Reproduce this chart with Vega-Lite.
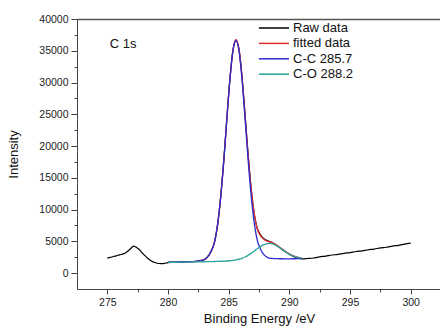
{
  "$schema": "https://vega.github.io/schema/vega-lite/v6.json",
  "autosize": "none",
  "padding": {"left": 77, "top": 19, "right": 0, "bottom": 40},
  "width": 364,
  "height": 270,
  "config": {
    "font": "Liberation Sans",
    "view": {"stroke": null},
    "axis": {"grid": false, "domainColor": "#444", "tickColor": "#444", "labelColor": "#222", "titleColor": "#111", "labelFont": "Liberation Sans", "titleFont": "Liberation Sans", "labelFontSize": 10.5, "titleFontSize": 13, "titleFontWeight": "normal"}
  },
  "datasets": {
    "curves": [
      {"series": "Raw data", "energy": 275, "intensity": 2360},
      {"series": "Raw data", "energy": 275.25, "intensity": 2480},
      {"series": "Raw data", "energy": 275.5, "intensity": 2620},
      {"series": "Raw data", "energy": 275.75, "intensity": 2720},
      {"series": "Raw data", "energy": 276, "intensity": 2880},
      {"series": "Raw data", "energy": 276.25, "intensity": 3000},
      {"series": "Raw data", "energy": 276.5, "intensity": 3180},
      {"series": "Raw data", "energy": 276.75, "intensity": 3550},
      {"series": "Raw data", "energy": 277, "intensity": 4000},
      {"series": "Raw data", "energy": 277.15, "intensity": 4250},
      {"series": "Raw data", "energy": 277.35, "intensity": 4100},
      {"series": "Raw data", "energy": 277.6, "intensity": 3750},
      {"series": "Raw data", "energy": 277.85, "intensity": 3250},
      {"series": "Raw data", "energy": 278.1, "intensity": 2750},
      {"series": "Raw data", "energy": 278.35, "intensity": 2300},
      {"series": "Raw data", "energy": 278.6, "intensity": 1950},
      {"series": "Raw data", "energy": 278.85, "intensity": 1700},
      {"series": "Raw data", "energy": 279.1, "intensity": 1550},
      {"series": "Raw data", "energy": 279.4, "intensity": 1480},
      {"series": "Raw data", "energy": 279.7, "intensity": 1520},
      {"series": "Raw data", "energy": 280, "intensity": 1660},
      {"series": "Raw data", "energy": 280.5, "intensity": 1740},
      {"series": "Raw data", "energy": 281, "intensity": 1730},
      {"series": "Raw data", "energy": 281.5, "intensity": 1790},
      {"series": "Raw data", "energy": 282, "intensity": 1800},
      {"series": "Raw data", "energy": 282.5, "intensity": 1920},
      {"series": "Raw data", "energy": 283, "intensity": 2120},
      {"series": "Raw data", "energy": 283.35, "intensity": 2780},
      {"series": "Raw data", "energy": 283.6, "intensity": 3600},
      {"series": "Raw data", "energy": 283.85, "intensity": 5050},
      {"series": "Raw data", "energy": 284.1, "intensity": 7800},
      {"series": "Raw data", "energy": 284.35, "intensity": 12150},
      {"series": "Raw data", "energy": 284.6, "intensity": 17700},
      {"series": "Raw data", "energy": 284.85, "intensity": 24300},
      {"series": "Raw data", "energy": 285.1, "intensity": 30400},
      {"series": "Raw data", "energy": 285.35, "intensity": 35000},
      {"series": "Raw data", "energy": 285.6, "intensity": 36600},
      {"series": "Raw data", "energy": 285.85, "intensity": 35300},
      {"series": "Raw data", "energy": 286.1, "intensity": 30900},
      {"series": "Raw data", "energy": 286.35, "intensity": 24950},
      {"series": "Raw data", "energy": 286.6, "intensity": 18800},
      {"series": "Raw data", "energy": 286.85, "intensity": 13400},
      {"series": "Raw data", "energy": 287.1, "intensity": 9500},
      {"series": "Raw data", "energy": 287.35, "intensity": 7100},
      {"series": "Raw data", "energy": 287.6, "intensity": 6100},
      {"series": "Raw data", "energy": 287.85, "intensity": 5500},
      {"series": "Raw data", "energy": 288.1, "intensity": 5200},
      {"series": "Raw data", "energy": 288.35, "intensity": 5000},
      {"series": "Raw data", "energy": 288.6, "intensity": 4800},
      {"series": "Raw data", "energy": 288.85, "intensity": 4500},
      {"series": "Raw data", "energy": 289.1, "intensity": 4150},
      {"series": "Raw data", "energy": 289.35, "intensity": 3800},
      {"series": "Raw data", "energy": 289.6, "intensity": 3450},
      {"series": "Raw data", "energy": 289.85, "intensity": 3150},
      {"series": "Raw data", "energy": 290.1, "intensity": 2850},
      {"series": "Raw data", "energy": 290.5, "intensity": 2500},
      {"series": "Raw data", "energy": 291, "intensity": 2250},
      {"series": "Raw data", "energy": 291.5, "intensity": 2300},
      {"series": "Raw data", "energy": 292, "intensity": 2380},
      {"series": "Raw data", "energy": 292.5, "intensity": 2560},
      {"series": "Raw data", "energy": 293, "intensity": 2680},
      {"series": "Raw data", "energy": 293.5, "intensity": 2850},
      {"series": "Raw data", "energy": 294, "intensity": 2940},
      {"series": "Raw data", "energy": 294.5, "intensity": 3120},
      {"series": "Raw data", "energy": 295, "intensity": 3230},
      {"series": "Raw data", "energy": 295.5, "intensity": 3400},
      {"series": "Raw data", "energy": 296, "intensity": 3500},
      {"series": "Raw data", "energy": 296.5, "intensity": 3680},
      {"series": "Raw data", "energy": 297, "intensity": 3790},
      {"series": "Raw data", "energy": 297.5, "intensity": 3960},
      {"series": "Raw data", "energy": 298, "intensity": 4070},
      {"series": "Raw data", "energy": 298.5, "intensity": 4260},
      {"series": "Raw data", "energy": 299, "intensity": 4380},
      {"series": "Raw data", "energy": 299.5, "intensity": 4570},
      {"series": "Raw data", "energy": 300, "intensity": 4720},

      {"series": "fitted data", "energy": 280, "intensity": 1720},
      {"series": "fitted data", "energy": 280.5, "intensity": 1735},
      {"series": "fitted data", "energy": 281, "intensity": 1750},
      {"series": "fitted data", "energy": 281.5, "intensity": 1775},
      {"series": "fitted data", "energy": 282, "intensity": 1810},
      {"series": "fitted data", "energy": 282.5, "intensity": 1900},
      {"series": "fitted data", "energy": 283, "intensity": 2140},
      {"series": "fitted data", "energy": 283.35, "intensity": 2755},
      {"series": "fitted data", "energy": 283.6, "intensity": 3620},
      {"series": "fitted data", "energy": 283.85, "intensity": 5000},
      {"series": "fitted data", "energy": 284.1, "intensity": 7827},
      {"series": "fitted data", "energy": 284.35, "intensity": 12105},
      {"series": "fitted data", "energy": 284.6, "intensity": 17774},
      {"series": "fitted data", "energy": 284.85, "intensity": 24270},
      {"series": "fitted data", "energy": 285.1, "intensity": 30497},
      {"series": "fitted data", "energy": 285.35, "intensity": 35040},
      {"series": "fitted data", "energy": 285.6, "intensity": 36776},
      {"series": "fitted data", "energy": 285.85, "intensity": 35223},
      {"series": "fitted data", "energy": 286.1, "intensity": 30885},
      {"series": "fitted data", "energy": 286.35, "intensity": 24895},
      {"series": "fitted data", "energy": 286.6, "intensity": 18683},
      {"series": "fitted data", "energy": 286.85, "intensity": 13345},
      {"series": "fitted data", "energy": 287.1, "intensity": 9437},
      {"series": "fitted data", "energy": 287.35, "intensity": 6991},
      {"series": "fitted data", "energy": 287.6, "intensity": 5963},
      {"series": "fitted data", "energy": 287.85, "intensity": 5391},
      {"series": "fitted data", "energy": 288.1, "intensity": 5098},
      {"series": "fitted data", "energy": 288.35, "intensity": 4923},
      {"series": "fitted data", "energy": 288.6, "intensity": 4776},
      {"series": "fitted data", "energy": 288.85, "intensity": 4535},
      {"series": "fitted data", "energy": 289.1, "intensity": 4228},
      {"series": "fitted data", "energy": 289.35, "intensity": 3877},
      {"series": "fitted data", "energy": 289.6, "intensity": 3523},
      {"series": "fitted data", "energy": 289.85, "intensity": 3200},
      {"series": "fitted data", "energy": 290.1, "intensity": 2924},
      {"series": "fitted data", "energy": 290.5, "intensity": 2610},
      {"series": "fitted data", "energy": 291, "intensity": 2396},

      {"series": "C-C 285.7", "energy": 280, "intensity": 1720},
      {"series": "C-C 285.7", "energy": 280.5, "intensity": 1735},
      {"series": "C-C 285.7", "energy": 281, "intensity": 1750},
      {"series": "C-C 285.7", "energy": 281.5, "intensity": 1775},
      {"series": "C-C 285.7", "energy": 282, "intensity": 1810},
      {"series": "C-C 285.7", "energy": 282.5, "intensity": 1900},
      {"series": "C-C 285.7", "energy": 283, "intensity": 2140},
      {"series": "C-C 285.7", "energy": 283.35, "intensity": 2755},
      {"series": "C-C 285.7", "energy": 283.6, "intensity": 3620},
      {"series": "C-C 285.7", "energy": 283.85, "intensity": 5000},
      {"series": "C-C 285.7", "energy": 284.1, "intensity": 7825},
      {"series": "C-C 285.7", "energy": 284.35, "intensity": 12100},
      {"series": "C-C 285.7", "energy": 284.6, "intensity": 17765},
      {"series": "C-C 285.7", "energy": 284.85, "intensity": 24250},
      {"series": "C-C 285.7", "energy": 285.1, "intensity": 30460},
      {"series": "C-C 285.7", "energy": 285.35, "intensity": 34970},
      {"series": "C-C 285.7", "energy": 285.6, "intensity": 36650},
      {"series": "C-C 285.7", "energy": 285.85, "intensity": 35010},
      {"series": "C-C 285.7", "energy": 286.1, "intensity": 30540},
      {"series": "C-C 285.7", "energy": 286.35, "intensity": 24365},
      {"series": "C-C 285.7", "energy": 286.6, "intensity": 17910},
      {"series": "C-C 285.7", "energy": 286.85, "intensity": 12275},
      {"series": "C-C 285.7", "energy": 287.1, "intensity": 8030},
      {"series": "C-C 285.7", "energy": 287.35, "intensity": 5235},
      {"series": "C-C 285.7", "energy": 287.6, "intensity": 3880},
      {"series": "C-C 285.7", "energy": 287.85, "intensity": 3045},
      {"series": "C-C 285.7", "energy": 288.1, "intensity": 2590},
      {"series": "C-C 285.7", "energy": 288.35, "intensity": 2375},
      {"series": "C-C 285.7", "energy": 288.6, "intensity": 2320},
      {"series": "C-C 285.7", "energy": 288.85, "intensity": 2285},
      {"series": "C-C 285.7", "energy": 289.1, "intensity": 2270},
      {"series": "C-C 285.7", "energy": 289.35, "intensity": 2260},
      {"series": "C-C 285.7", "energy": 289.6, "intensity": 2255},
      {"series": "C-C 285.7", "energy": 289.85, "intensity": 2255},
      {"series": "C-C 285.7", "energy": 290.1, "intensity": 2255},
      {"series": "C-C 285.7", "energy": 290.5, "intensity": 2265},
      {"series": "C-C 285.7", "energy": 291, "intensity": 2270},

      {"series": "C-O 288.2", "energy": 280, "intensity": 1700},
      {"series": "C-O 288.2", "energy": 280.5, "intensity": 1710},
      {"series": "C-O 288.2", "energy": 281, "intensity": 1720},
      {"series": "C-O 288.2", "energy": 281.5, "intensity": 1735},
      {"series": "C-O 288.2", "energy": 282, "intensity": 1750},
      {"series": "C-O 288.2", "energy": 282.5, "intensity": 1770},
      {"series": "C-O 288.2", "energy": 283, "intensity": 1790},
      {"series": "C-O 288.2", "energy": 283.35, "intensity": 1805},
      {"series": "C-O 288.2", "energy": 283.6, "intensity": 1820},
      {"series": "C-O 288.2", "energy": 283.85, "intensity": 1830},
      {"series": "C-O 288.2", "energy": 284.1, "intensity": 1847},
      {"series": "C-O 288.2", "energy": 284.35, "intensity": 1865},
      {"series": "C-O 288.2", "energy": 284.6, "intensity": 1884},
      {"series": "C-O 288.2", "energy": 284.85, "intensity": 1910},
      {"series": "C-O 288.2", "energy": 285.1, "intensity": 1947},
      {"series": "C-O 288.2", "energy": 285.35, "intensity": 2000},
      {"series": "C-O 288.2", "energy": 285.6, "intensity": 2076},
      {"series": "C-O 288.2", "energy": 285.85, "intensity": 2183},
      {"series": "C-O 288.2", "energy": 286.1, "intensity": 2335},
      {"series": "C-O 288.2", "energy": 286.35, "intensity": 2535},
      {"series": "C-O 288.2", "energy": 286.6, "intensity": 2793},
      {"series": "C-O 288.2", "energy": 286.85, "intensity": 3105},
      {"series": "C-O 288.2", "energy": 287.1, "intensity": 3457},
      {"series": "C-O 288.2", "energy": 287.35, "intensity": 3821},
      {"series": "C-O 288.2", "energy": 287.6, "intensity": 4163},
      {"series": "C-O 288.2", "energy": 287.85, "intensity": 4441},
      {"series": "C-O 288.2", "energy": 288.1, "intensity": 4618},
      {"series": "C-O 288.2", "energy": 288.35, "intensity": 4673},
      {"series": "C-O 288.2", "energy": 288.6, "intensity": 4596},
      {"series": "C-O 288.2", "energy": 288.85, "intensity": 4405},
      {"series": "C-O 288.2", "energy": 289.1, "intensity": 4128},
      {"series": "C-O 288.2", "energy": 289.35, "intensity": 3797},
      {"series": "C-O 288.2", "energy": 289.6, "intensity": 3463},
      {"series": "C-O 288.2", "energy": 289.85, "intensity": 3150},
      {"series": "C-O 288.2", "energy": 290.1, "intensity": 2884},
      {"series": "C-O 288.2", "energy": 290.5, "intensity": 2580},
      {"series": "C-O 288.2", "energy": 291, "intensity": 2376}
    ],
    "label": [{"energy": 275.2, "intensity": 36100, "text": "C 1s"}]
  },
  "resolve": {"axis": {"x": "independent", "y": "independent"}},
  "layer": [
    {
      "data": {"name": "curves"},
      "transform": [{"filter": "datum.series === 'Raw data'"}],
      "mark": {"type": "line", "strokeWidth": 1.2, "interpolate": "monotone"},
      "encoding": {
        "x": {"field": "energy", "type": "quantitative", "scale": {"domain": [272.5, 302.5], "nice": false, "zero": false},
          "axis": {"orient": "bottom", "values": [275, 280, 285, 290, 295, 300], "tickSize": 5, "labelPadding": 3, "titlePadding": 5, "title": "Binding Energy /eV", "format": "d"}},
        "y": {"field": "intensity", "type": "quantitative", "scale": {"domain": [-2500, 40000], "nice": false, "zero": false},
          "axis": {"orient": "left", "values": [0, 5000, 10000, 15000, 20000, 25000, 30000, 35000, 40000], "tickSize": 6, "labelPadding": 3, "titlePadding": 18, "title": "Intensity", "format": "d"}},
        "color": {"field": "series", "type": "nominal",
          "scale": {"domain": ["Raw data", "fitted data", "C-C 285.7", "C-O 288.2"], "range": ["#000000", "#e03030", "#2b2bd0", "#2fa39c"]},
          "legend": {"title": null, "orient": "none", "legendX": 190, "legendY": 1, "padding": 0, "symbolType": "M-2.3,0H2.0", "symbolSize": 196, "symbolStrokeWidth": 1.5, "labelFontSize": 13, "labelFont": "Liberation Sans", "labelColor": "#111", "labelOffset": 10, "rowPadding": 0.4}}
      }
    },
    {
      "data": {"name": "curves"},
      "transform": [{"filter": "datum.series === 'fitted data'"}],
      "mark": {"type": "line", "strokeWidth": 1.3, "interpolate": "monotone"},
      "encoding": {
        "x": {"field": "energy", "type": "quantitative",
          "axis": {"orient": "top", "ticks": false, "labels": false, "title": null, "domainColor": "#555", "domainWidth": 1.5}},
        "y": {"field": "intensity", "type": "quantitative", "axis": null},
        "color": {"field": "series", "type": "nominal"}
      }
    },
    {
      "data": {"name": "curves"},
      "transform": [{"filter": "datum.series === 'C-C 285.7'"}],
      "mark": {"type": "line", "strokeWidth": 1.3, "interpolate": "monotone"},
      "encoding": {
        "x": {"field": "energy", "type": "quantitative", "axis": null},
        "y": {"field": "intensity", "type": "quantitative", "axis": null},
        "color": {"field": "series", "type": "nominal"}
      }
    },
    {
      "data": {"name": "curves"},
      "transform": [{"filter": "datum.series === 'C-O 288.2'"}],
      "mark": {"type": "line", "strokeWidth": 1.3, "interpolate": "monotone"},
      "encoding": {
        "x": {"field": "energy", "type": "quantitative", "axis": null},
        "y": {"field": "intensity", "type": "quantitative", "axis": null},
        "color": {"field": "series", "type": "nominal"}
      }
    },
    {
      "data": {"name": "label"},
      "mark": {"type": "text", "align": "left", "baseline": "middle", "fontSize": 13, "font": "Liberation Sans", "color": "#111"},
      "encoding": {
        "x": {"field": "energy", "type": "quantitative",
          "axis": {"orient": "bottom", "values": [277.5, 282.5, 287.5, 292.5, 297.5], "tickSize": 3, "labels": false, "domain": false, "title": null}},
        "y": {"field": "intensity", "type": "quantitative",
          "axis": {"orient": "left", "values": [2500, 7500, 12500, 17500, 22500, 27500, 32500, 37500], "tickSize": 3, "labels": false, "domain": false, "title": null}},
        "text": {"field": "text"}
      }
    }
  ]
}
